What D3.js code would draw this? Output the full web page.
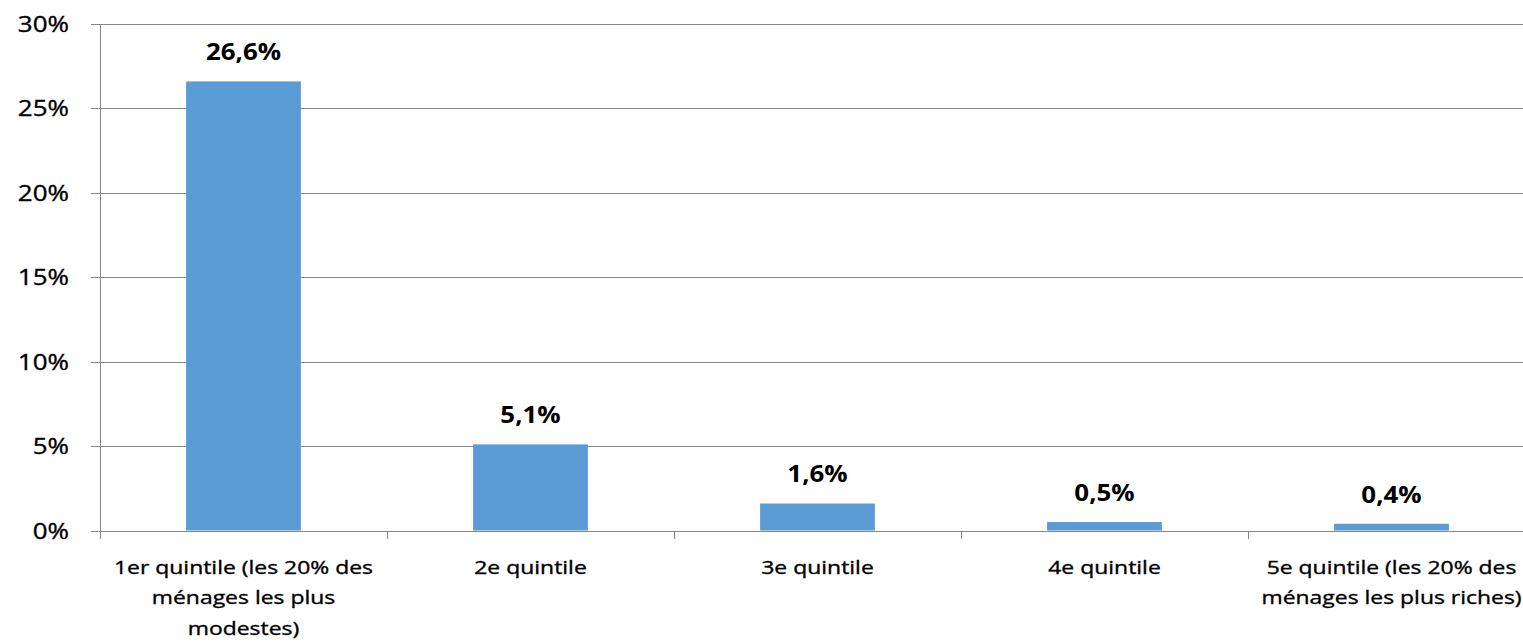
<!DOCTYPE html>
<html>
<head>
<meta charset="utf-8">
<script src="https://cdn.jsdelivr.net/npm/d3@7"></script>
<style>
  html, body { margin: 0; padding: 0; background: #fff; }
  svg { display: block; font-family: "Open Sans", sans-serif; }
  .grid line { stroke: #868686; stroke-width: 1; shape-rendering: crispEdges; }
  .lbl { fill: #000; stroke: #000; stroke-width: 0.35px; }
</style>
</head>
<body>
<div id="chart"></div>
<script>
const categories = [
  '1er quintile (les 20% des ménages les plus modestes)',
  '2e quintile',
  '3e quintile',
  '4e quintile',
  '5e quintile (les 20% des ménages les plus riches)'
];
const values = [0.266, 0.051, 0.016, 0.005, 0.004];
const valueLabels = ['26,6%', '5,1%', '1,6%', '0,5%', '0,4%'];
const yTicks = [0, 0.05, 0.10, 0.15, 0.20, 0.25, 0.30];

const width = 1523,
  height = 642;
const plot = { left: 100, right: 1535, top: 24, bottom: 530.5 };
const stretch = 1.24; // reference glyphs are wider than the local fonts

const svg = d3.select('#chart').append('svg')
    .attr('width', width)
    .attr('height', height);

const x = d3.scaleBand()
    .domain(categories)
    .range([plot.left, plot.right])
    .paddingInner(0.6)
    .paddingOuter(0.3);

const y = d3.scaleLinear()
    .domain([0, 0.30])
    .range([plot.bottom, plot.top]);

// horizontal gridlines, with small ticks on the left
svg.append('g')
    .attr('class', 'grid')
  .selectAll('line')
    .data(yTicks)
  .enter().append('line')
    .attr('x1', plot.left - 9)
    .attr('x2', width)
    .attr('y1', (d) => Math.round(y(d)) + 0.5)
    .attr('y2', (d) => Math.round(y(d)) + 0.5);

// y axis line
svg.append('line')
    .attr('x1', plot.left + 0.5).attr('x2', plot.left + 0.5)
    .attr('y1', Math.round(y(0.30))).attr('y2', Math.round(y(0)) + 8)
    .style('stroke', '#868686')
    .style('shape-rendering', 'crispEdges');

// y tick labels
const yFmt = d3.format('.0%');
svg.append('g')
  .selectAll('text')
    .data(yTicks)
  .enter().append('text')
    .attr('class', 'lbl')
    .attr('transform', (d) => `translate(69,${y(d) + 8}) scale(1.18,1)`)
    .attr('text-anchor', 'end')
    .style('font-size', '22px')
    .text((d) => yFmt(d));

// category separators on the x axis
const bounds = categories.slice(1).map((c) => x(c) - x.step() * x.paddingInner() / 2);
svg.append('g')
  .selectAll('line')
    .data(bounds)
  .enter().append('line')
    .attr('x1', (d) => Math.round(d) + 0.5)
    .attr('x2', (d) => Math.round(d) + 0.5)
    .attr('y1', Math.round(y(0)))
    .attr('y2', Math.round(y(0)) + 8)
    .style('stroke', '#868686')
    .style('shape-rendering', 'crispEdges');

// bars
svg.append('g')
  .selectAll('rect')
    .data(values)
  .enter().append('rect')
    .attr('x', (d, i) => x(categories[i]))
    .attr('width', x.bandwidth())
    .attr('y', (d) => y(d))
    .attr('height', (d) => y(0) - y(d))
    .style('fill', '#5B9BD5');

// value labels
svg.append('g')
  .selectAll('text')
    .data(values)
  .enter().append('text')
    .attr('transform', (d, i) => `translate(${x(categories[i]) + x.bandwidth() / 2},${y(d) - 21}) scale(1.08,1)`)
    .attr('text-anchor', 'middle')
    .style('font-size', '24px')
    .style('font-weight', 'bold')
    .style('fill', '#000')
    .text((d, i) => valueLabels[i]);

// category labels, wrapped to the band width
const catG = svg.append('g');
categories.forEach((c) => {
  const cx = x(c) + x.bandwidth() / 2;
  const t = catG.append('text')
      .attr('class', 'lbl')
      .attr('transform', `translate(${cx},574) scale(${stretch},1)`)
      .attr('text-anchor', 'middle')
      .style('font-size', '18.5px');
  wrap(t, c, 275 / stretch);
});

function wrap(text, str, maxW) {
  const words = str.split(/\s+/);
  let line = [];
  let tspan = text.append('tspan').attr('x', 0).attr('dy', 0);
  words.forEach((w) => {
    line.push(w);
    tspan.text(line.join(' '));
    if (tspan.node().getComputedTextLength() > maxW && line.length > 1) {
      line.pop();
      tspan.text(line.join(' '));
      line = [w];
      tspan = text.append('tspan').attr('x', 0).attr('dy', 30.5).text(w);
    }
  });
}
</script>
</body>
</html>
